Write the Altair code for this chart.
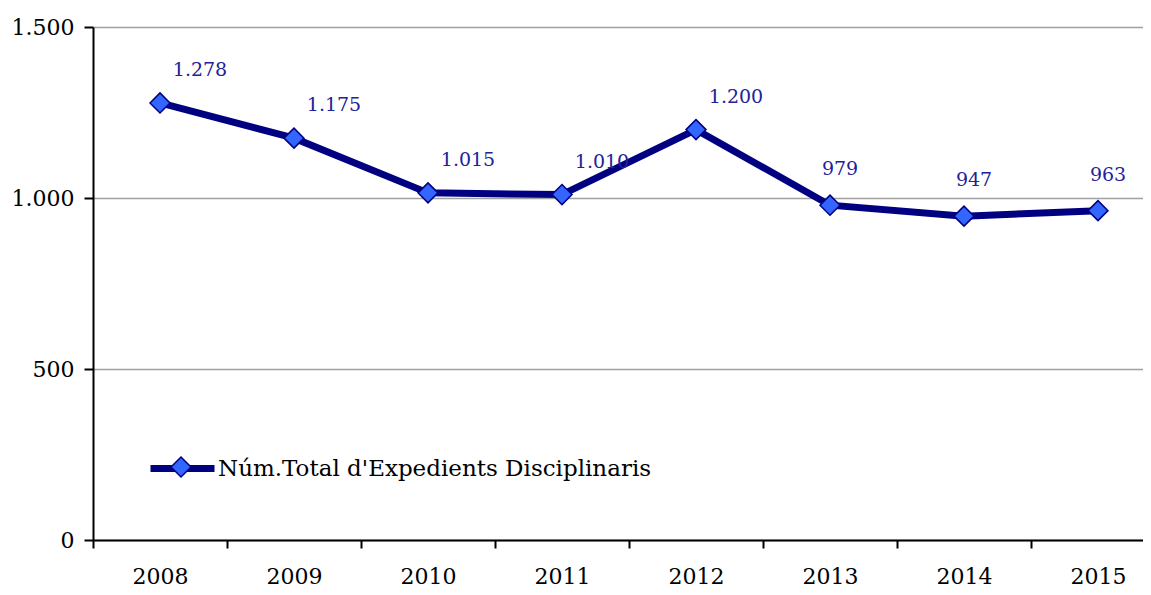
import altair as alt
import pandas as pd

# ---- data ----
years = [2008, 2009, 2010, 2011, 2012, 2013, 2014, 2015]
values = [1278, 1175, 1015, 1010, 1200, 979, 947, 963]
series_name = "Núm.Total d'Expedients Disciplinaris"
y_ticks = [0, 500, 1000, 1500]
x_tick_bounds = [2007.5, 2008.5, 2009.5, 2010.5, 2011.5, 2012.5, 2013.5, 2014.5]

df = pd.DataFrame({
    "year": years,
    "value": values,
    "serie": [series_name] * len(years),
    "serie2": [series_name] * len(years),
})

FONT = "DejaVu Serif"
NAVY = "#000080"
BLUE = "#3366ff"
LABEL_BLUE = "#22229a"
W = 1050
H = 513
BAND = 134
x_domain = [2007.5, 2007.5 + W / BAND]

dot_fmt = "replace(format(datum.value, ','), ',', '.')"

base = alt.Chart(df).encode(
    x=alt.X(
        "year:Q",
        scale=alt.Scale(domain=x_domain, nice=False, zero=False),
        axis=alt.Axis(
            values=x_tick_bounds,
            labelExpr="toString(datum.value + 0.5)",
            labelOffset=BAND / 2,
            labelFlush=False,
            labelOverlap=False,
            labelFont=FONT,
            labelFontSize=22,
            labelColor="black",
            labelPadding=18,
            tickSize=8,
            tickWidth=2,
            tickColor="black",
            domainColor="black",
            domainWidth=2,
            grid=False,
            title=None,
        ),
    ),
    y=alt.Y(
        "value:Q",
        scale=alt.Scale(domain=[0, 1500], nice=False),
        axis=alt.Axis(
            values=y_ticks,
            labelExpr=dot_fmt,
            labelFont=FONT,
            labelFontSize=22,
            labelColor="black",
            labelPadding=10,
            tickSize=9,
            tickWidth=2,
            tickColor="black",
            domainColor="black",
            domainWidth=2,
            grid=True,
            gridColor="#a0a0a0",
            gridWidth=1.5,
            title=None,
        ),
    ),
)

line = base.mark_line(strokeWidth=7).encode(
    stroke=alt.Stroke(
        "serie:N",
        scale=alt.Scale(range=[NAVY]),
        legend=alt.Legend(
            title=None,
            orient="none",
            legendX=54,
            legendY=406,
            padding=0,
            symbolType="stroke",
            symbolStrokeWidth=7,
            symbolSize=4096,
            labelFont=FONT,
            labelFontSize=23,
            labelColor="black",
            labelOffset=0,
            labelLimit=800,
        ),
    )
)

points = base.mark_point(
    shape="diamond", filled=True, size=400, stroke=NAVY, strokeWidth=1.5, opacity=1
).encode(
    fill=alt.Fill(
        "serie2:N",
        scale=alt.Scale(range=[BLUE]),
        legend=alt.Legend(
            title=None,
            orient="none",
            legendX=77,
            legendY=429,
            padding=0,
            symbolType="diamond",
            symbolSize=400,
            symbolFillColor=BLUE,
            symbolStrokeColor=NAVY,
            symbolStrokeWidth=1.5,
            symbolOpacity=1,
            labelExpr="''",
            labelFontSize=1,
        ),
    )
)

labels_big = base.transform_filter("datum.value >= 1000").transform_calculate(
    lab="replace(format(datum.value, ','), ',', '.')"
).mark_text(dx=40, dy=-33, font=FONT, fontSize=19, color=LABEL_BLUE).encode(text="lab:N")

labels_small = base.transform_filter("datum.value < 1000").transform_calculate(
    lab="replace(format(datum.value, ','), ',', '.')"
).mark_text(dx=10, dy=-36, font=FONT, fontSize=19, color=LABEL_BLUE).encode(text="lab:N")

chart = alt.layer(line, points, labels_big, labels_small).resolve_legend(
    stroke="independent", fill="independent"
).properties(
    width=W,
    height=H,
    autosize=alt.AutoSizeParams(type="none"),
    padding={"left": 85, "top": 19, "right": 0, "bottom": 47},
).configure_view(stroke=None).configure(background="white")

chart.save("out.html", embed_options={"renderer": "svg", "actions": False})
